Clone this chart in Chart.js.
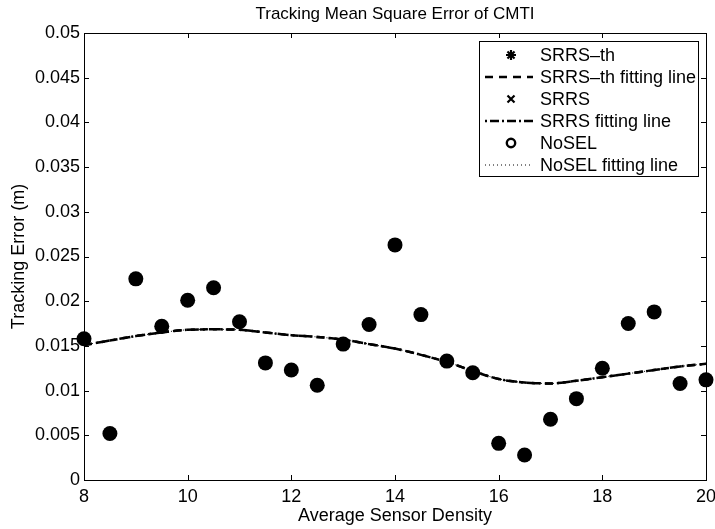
<!DOCTYPE html>
<html>
<head>
<meta charset="utf-8">
<script src="https://cdn.jsdelivr.net/npm/chart.js@4/dist/chart.umd.min.js"></script>
<style>
  html, body { margin: 0; padding: 0; background: #fff; }
  #wrap { width: 715px; height: 529px; }
</style>
</head>
<body>
<div id="wrap"><canvas id="chart" width="715" height="529"></canvas></div>
<script>
// sensor density (x) and measured tracking error; the three methods sit on the same points
const densities = [8, 8.5, 9, 9.5, 10, 10.5, 11, 11.5, 12, 12.5, 13, 13.5, 14, 14.5, 15, 15.5, 16, 16.5, 17, 17.5, 18, 18.5, 19, 19.5, 20];
const srrsThErr = [0.0158, 0.0052, 0.0225, 0.0172, 0.0201, 0.0215, 0.0177, 0.0131, 0.0123, 0.0106, 0.0152, 0.0174, 0.0263, 0.0185, 0.0133, 0.0120, 0.0041, 0.0028, 0.0068, 0.0091, 0.0125, 0.0175, 0.0188, 0.0108, 0.0112];
const srrsErr = srrsThErr.slice();
const noselErr = srrsThErr.slice();

// fitting curves (all three overlap)
const fitX = [8, 8.5, 9, 9.5, 10, 10.5, 11, 11.5, 12, 12.5, 13, 13.5, 14, 14.5, 15, 15.5, 16, 16.5, 17, 17.5, 18, 18.5, 19, 19.5, 20];
const fitVals = [0.0151, 0.0156, 0.0161, 0.0165, 0.0168, 0.01685, 0.0168, 0.0165, 0.0162, 0.0160, 0.0157, 0.0152, 0.0147, 0.0140, 0.0132, 0.0122, 0.0113, 0.0109, 0.0108, 0.0111, 0.0115, 0.0119, 0.0123, 0.0127, 0.0130];

const xTicks = [8, 10, 12, 14, 16, 18, 20];
const yTicks = [0, 0.005, 0.01, 0.015, 0.02, 0.025, 0.03, 0.035, 0.04, 0.045, 0.05];

const chartTitle = 'Tracking Mean Square Error of CMTI';
const legendItems = ['SRRS\u2013th', 'SRRS\u2013th fitting line', 'SRRS', 'SRRS fitting line', 'NoSEL', 'NoSEL fitting line'];

const FONT = '"Liberation Sans", Arial, Helvetica, sans-serif';

function pts(xs, ys) { return xs.map((x, i) => ({ x: x, y: ys[i] })); }

// matlab style box, inward ticks, title over the axes and legend
const matlabAxes = {
  id: 'matlabAxes',
  afterDraw(chart) {
    const ctx = chart.ctx, a = chart.chartArea;
    const xs = chart.scales.x, ys = chart.scales.y;
    ctx.save();
    ctx.strokeStyle = '#000';
    ctx.lineWidth = 1;
    ctx.strokeRect(Math.round(a.left) + 0.5, Math.round(a.top) + 0.5, Math.round(a.right - a.left), Math.round(a.bottom - a.top));
    const tl = 5;
    ctx.beginPath();
    xTicks.forEach(v => {
      const px = Math.round(xs.getPixelForValue(v)) + 0.5;
      ctx.moveTo(px, a.bottom); ctx.lineTo(px, a.bottom - tl);
      ctx.moveTo(px, a.top); ctx.lineTo(px, a.top + tl);
    });
    yTicks.forEach(v => {
      const py = Math.round(ys.getPixelForValue(v)) + 0.5;
      ctx.moveTo(a.left, py); ctx.lineTo(a.left + tl, py);
      ctx.moveTo(a.right, py); ctx.lineTo(a.right - tl, py);
    });
    ctx.stroke();

    // title
    ctx.fillStyle = '#000';
    ctx.font = '17px ' + FONT;
    ctx.textAlign = 'center';
    ctx.textBaseline = 'middle';
    ctx.fillText(chartTitle, (a.left + a.right) / 2, 14);
    ctx.textAlign = 'left';

    // legend
    const lx = 479, ly = 41, lw = 219, lh = 135;
    ctx.fillStyle = '#fff';
    ctx.fillRect(lx, ly, lw, lh);
    ctx.strokeRect(lx + 0.5, ly + 0.5, lw, lh);
    const rowY = [55, 77, 99, 121, 143, 165];
    ctx.font = '18px ' + FONT;
    ctx.fillStyle = '#000';
    legendItems.forEach((t, i) => ctx.fillText(t, 540, rowY[i] + 1));
    const mx = 511;
    // asterisk
    ctx.lineWidth = 2.2;
    ctx.beginPath();
    for (let k = 0; k < 4; k++) {
      const ang = k * Math.PI / 4;
      ctx.moveTo(mx - 5 * Math.cos(ang), rowY[0] - 5 * Math.sin(ang));
      ctx.lineTo(mx + 5 * Math.cos(ang), rowY[0] + 5 * Math.sin(ang));
    }
    ctx.stroke();
    // x
    ctx.beginPath();
    ctx.moveTo(mx - 3.5, rowY[2] - 3.5); ctx.lineTo(mx + 3.5, rowY[2] + 3.5);
    ctx.moveTo(mx + 3.5, rowY[2] - 3.5); ctx.lineTo(mx - 3.5, rowY[2] + 3.5);
    ctx.stroke();
    // o
    ctx.lineWidth = 2.4;
    ctx.beginPath();
    ctx.arc(mx, rowY[4], 4.2, 0, Math.PI * 2);
    ctx.stroke();
    // line samples
    const samples = [[rowY[1], [8, 6], 2.5], [rowY[3], [2, 3, 9, 3], 2.5], [rowY[5], [1, 3], 1]];
    samples.forEach(s => {
      ctx.setLineDash(s[1]);
      ctx.lineWidth = s[2];
      ctx.beginPath();
      ctx.moveTo(485, s[0]); ctx.lineTo(533, s[0]);
      ctx.stroke();
    });
    ctx.restore();
  }
};

const ctx = document.getElementById('chart').getContext('2d');
const chartObj = new Chart(ctx, {
  type: 'scatter',
  data: {
    datasets: [
      { label: legendItems[5], type: 'line', data: pts(fitX, fitVals), borderColor: '#000', borderWidth: 1, borderDash: [1, 3], pointRadius: 0, fill: false, cubicInterpolationMode: 'monotone', order: 3 },
      { label: legendItems[1], type: 'line', data: pts(fitX, fitVals), borderColor: '#000', borderWidth: 2.5, borderDash: [8, 5], pointRadius: 0, fill: false, cubicInterpolationMode: 'monotone', order: 2 },
      { label: legendItems[3], type: 'line', data: pts(fitX, fitVals), borderColor: '#000', borderWidth: 2.5, borderDash: [8, 4, 2, 4], pointRadius: 0, fill: false, cubicInterpolationMode: 'monotone', order: 1 },
      { label: legendItems[4], data: pts(densities, noselErr), pointStyle: 'circle', pointRadius: 7.5, backgroundColor: '#000', borderColor: '#000', borderWidth: 0, clip: false, order: 0 },
      { label: legendItems[0], data: pts(densities, srrsThErr), pointStyle: 'star', pointRadius: 6, backgroundColor: '#000', borderColor: '#222', borderWidth: 1, clip: false, order: 0 },
      { label: legendItems[2], data: pts(densities, srrsErr), pointStyle: 'crossRot', pointRadius: 4, borderColor: '#111', borderWidth: 1, clip: false, order: 0 }
    ]
  },
  options: {
    responsive: false,
    animation: false,
    layout: { autoPadding: false, padding: { left: 0, right: 9, top: 33, bottom: 0 } },
    plugins: {
      legend: { display: false },
      tooltip: { enabled: false },
      title: { display: false }
    },
    scales: {
      x: {
        type: 'linear', min: 8, max: 20,
        afterBuildTicks: s => { s.ticks = xTicks.map(v => ({ value: v })); },
        afterFit: s => { s.height = 49; s.paddingLeft = 0; s.paddingRight = 0; },
        grid: { display: false, drawTicks: false },
        border: { display: false },
        ticks: { color: '#000', padding: 6, font: { family: FONT, size: 18 }, maxRotation: 0 },
        title: { display: true, text: 'Average Sensor Density', color: '#000', font: { family: FONT, size: 18 }, padding: { top: 0, bottom: 2 } }
      },
      y: {
        type: 'linear', min: 0, max: 0.05,
        afterBuildTicks: s => { s.ticks = yTicks.map(v => ({ value: v })); },
        afterFit: s => { s.width = 84; s.paddingTop = 0; s.paddingBottom = 0; },
        grid: { display: false, drawTicks: false },
        border: { display: false },
        ticks: { color: '#000', padding: 4, font: { family: FONT, size: 18 }, callback: v => String(Number(v.toFixed(3))) },
        title: { display: true, text: 'Tracking Error (m)', color: '#000', font: { family: FONT, size: 18 }, padding: { top: 8, bottom: 0 } }
      }
    }
  },
  plugins: [matlabAxes]
});
</script>
</body>
</html>
